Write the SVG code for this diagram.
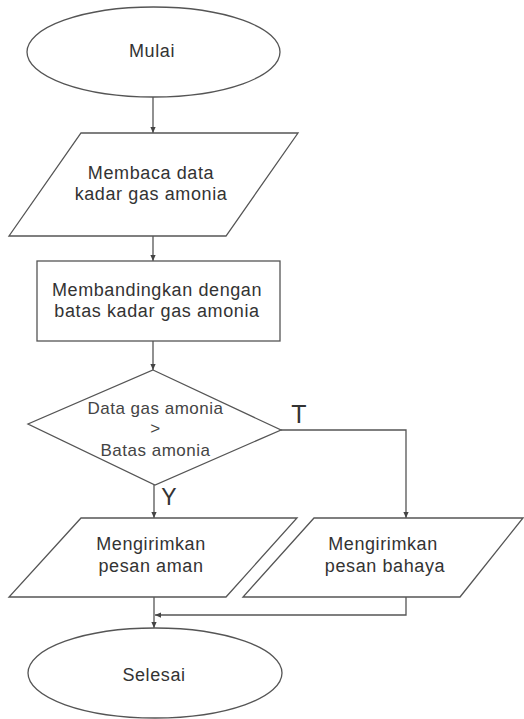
<svg xmlns="http://www.w3.org/2000/svg" width="524" height="719" viewBox="0 0 524 719">
  <defs>
    <marker id="arrow" viewBox="0 0 8 8" refX="8" refY="4" markerWidth="6" markerHeight="6" orient="auto" markerUnits="userSpaceOnUse">
      <path d="M0,0.5 L8,4 L0,7.5 Z" fill="#444"/>
    </marker>
    <style>
      .shape { fill: #ffffff; stroke: #555555; stroke-width: 1.3; }
      .wire { fill: none; stroke: #555555; stroke-width: 1.3; }
      .label { font-family: "Liberation Sans", Arial, sans-serif; font-size: 18px; letter-spacing: 0.6px; fill: #333333; text-anchor: middle; }
      .cond { font-family: "Liberation Sans", Arial, sans-serif; font-size: 17px; letter-spacing: 0.5px; fill: #444444; text-anchor: middle; }
      .branch { font-family: "Liberation Sans", Arial, sans-serif; fill: #333333; text-anchor: middle; }
    </style>
  </defs>
  <rect width="524" height="719" fill="#ffffff"/>

  <g id="connectors">
    <path class="wire" d="M153,97 V133" marker-end="url(#arrow)"/>
    <path class="wire" d="M153,236 V261" marker-end="url(#arrow)"/>
    <path class="wire" d="M153,341 V370" marker-end="url(#arrow)"/>
    <path class="wire" d="M154,485 V518" marker-end="url(#arrow)"/>
    <path class="wire" d="M281,430 H406 V518" marker-end="url(#arrow)"/>
    <path class="wire" d="M154,597 V628" marker-end="url(#arrow)"/>
    <path class="wire" d="M406,597 V615 H155" marker-end="url(#arrow)"/>
    <text class="branch" x="299" y="423" font-size="25">T</text>
    <text class="branch" x="169" y="505" font-size="23">Y</text>
  </g>

  <g id="start">
    <ellipse class="shape" cx="153.5" cy="52" rx="126.5" ry="45"/>
    <text class="label" x="152" y="57">Mulai</text>
  </g>

  <g id="read-data">
    <polygon class="shape" points="81,133 298,133 226,236 9,236"/>
    <text class="label" x="151" y="179">Membaca data</text>
    <text class="label" x="151" y="200">kadar gas amonia</text>
  </g>

  <g id="compare">
    <rect class="shape" x="37" y="261" width="243" height="80"/>
    <text class="label" x="157" y="296">Membandingkan dengan</text>
    <text class="label" x="157" y="317">batas kadar gas amonia</text>
  </g>

  <g id="decision">
    <polygon class="shape" points="153,370 281,430 155,485 28,424"/>
    <text class="cond" x="155.5" y="414">Data gas amonia</text>
    <text class="cond" x="155.5" y="434">&gt;</text>
    <text class="cond" x="155.5" y="456">Batas amonia</text>
  </g>

  <g id="send-safe">
    <polygon class="shape" points="81,518 297,518 226,597 9,597"/>
    <text class="label" x="151" y="550">Mengirimkan</text>
    <text class="label" x="151" y="572">pesan aman</text>
  </g>

  <g id="send-danger">
    <polygon class="shape" points="314,518 523,518 460,597 243,597"/>
    <text class="label" x="383" y="550">Mengirimkan</text>
    <text class="label" x="385" y="572">pesan bahaya</text>
  </g>

  <g id="end">
    <ellipse class="shape" cx="155" cy="673" rx="127" ry="45"/>
    <text class="label" x="154" y="681">Selesai</text>
  </g>
</svg>
